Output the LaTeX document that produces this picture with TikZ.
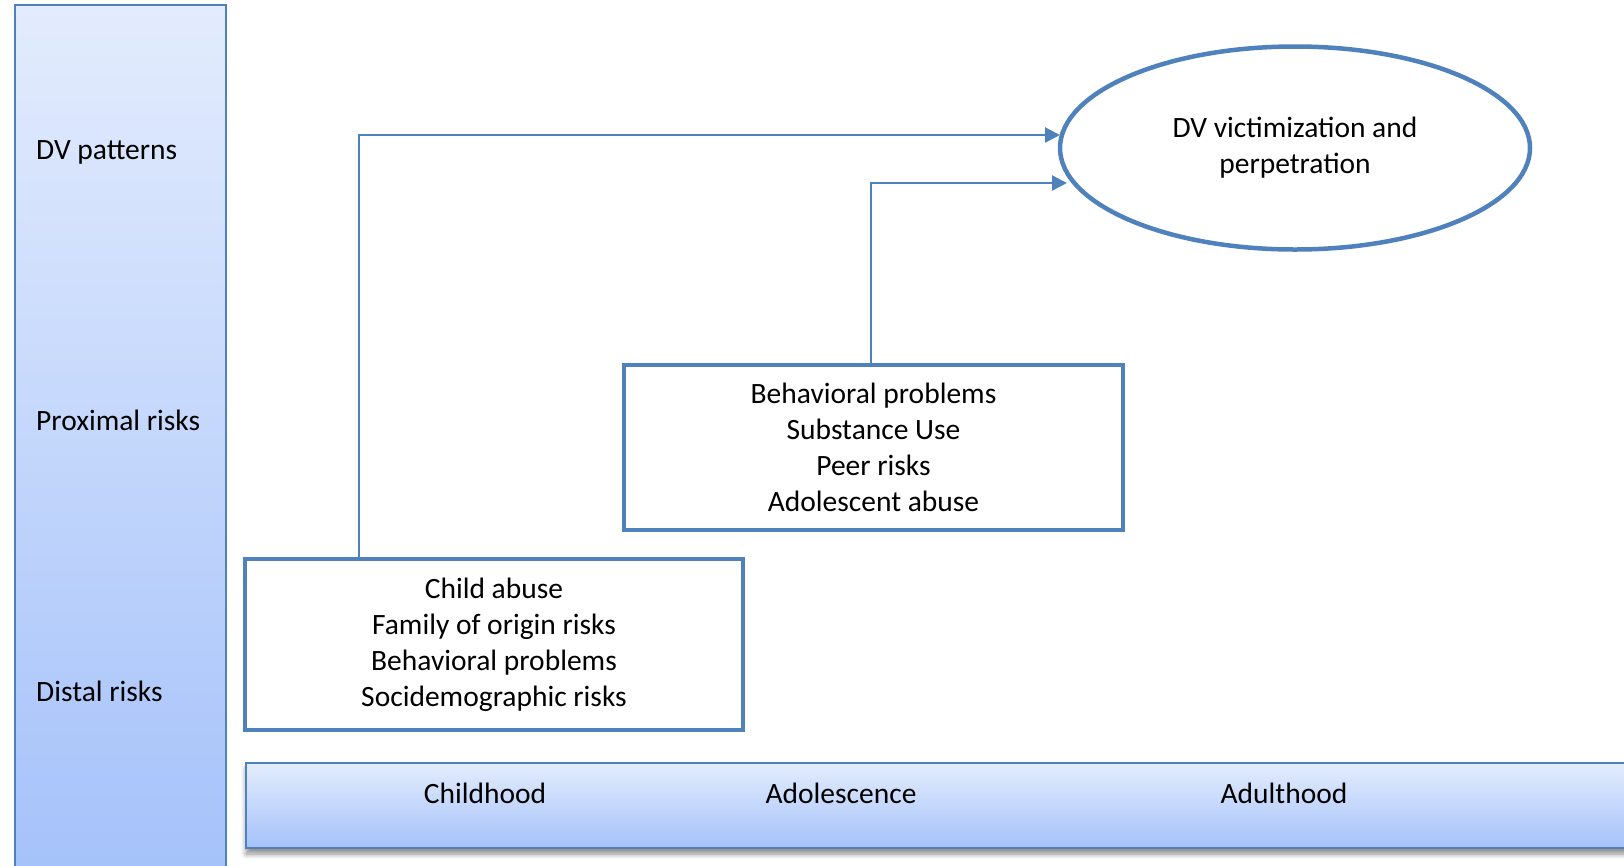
\documentclass[tikz,border=0pt]{standalone}
\usepackage{fontspec}
\setmainfont{Carlito}
\usetikzlibrary{shapes.geometric,arrows.meta,shadows.blur}
\definecolor{officeblue}{HTML}{4F81BD}
\definecolor{bartop}{HTML}{E3ECFD}
\definecolor{barbottom}{HTML}{A5C2FA}
\tikzset{
  riskbox/.style={draw=officeblue, line width=4.5pt, fill=white, align=center,
    inner sep=0pt},
  stagebar/.style={draw=officeblue, line width=1.6pt, top color=bartop,
    bottom color=barbottom, inner sep=0pt},
  flow/.style={draw=officeblue, line width=2.4pt,
    -{Triangle[length=15pt,width=15pt]}},
  rowlabel/.style={anchor=base west, inner sep=0pt},
}

\begin{document}
\begin{tikzpicture}[x=1pt, y=-1pt, font=\fontsize{29.5}{36}\selectfont]
  \useasboundingbox (0,0) rectangle (1624,865);
  % Define bars
  \node[stagebar, minimum width=211pt, minimum height=862pt] (levels) at (120.5,436) {};
  \node[stagebar, blur shadow={shadow xshift=0pt, shadow yshift=-6pt, shadow blur radius=5pt,
        shadow blur steps=8, shadow opacity=45},
        minimum width=1390pt, minimum height=85pt] (ages) at (941,805.5) {};
  \node[rowlabel] (dvrow) at (36,159) {DV patterns};
  \node[rowlabel] (proxrow) at (36,430) {Proximal risks};
  \node[rowlabel] (distrow) at (36,701) {Distal risks};
  \node (child) at (485,793) {Childhood};
  \node (adol) at (841,793) {Adolescence};
  \node (adult) at (1284,793) {Adulthood};
  % Define boxes
  \node[riskbox, minimum width=498pt, minimum height=171pt] (distal) at (494,644.5)
    {Child abuse\\Family of origin risks\\Behavioral problems\\Socidemographic risks};
  \node[riskbox, minimum width=499pt, minimum height=165pt] (prox) at (873.5,447.5)
    {Behavioral problems\\Substance Use\\Peer risks\\Adolescent abuse};
  \node[riskbox, ellipse, minimum width=470pt, minimum height=203pt] (dv) at (1295,148)
    {DV victimization and\\perpetration};
  % Define edges
  \coordinate (k1) at (359,135);
  \coordinate (t1) at (1060,135);
  \coordinate (k2) at (871,183);
  \coordinate (t2) at (1067,183);
  \draw[flow] (distal.north -| k1) |- (t1);
  \draw[flow] (prox.north -| k2) |- (t2);
\end{tikzpicture}
\end{document}
